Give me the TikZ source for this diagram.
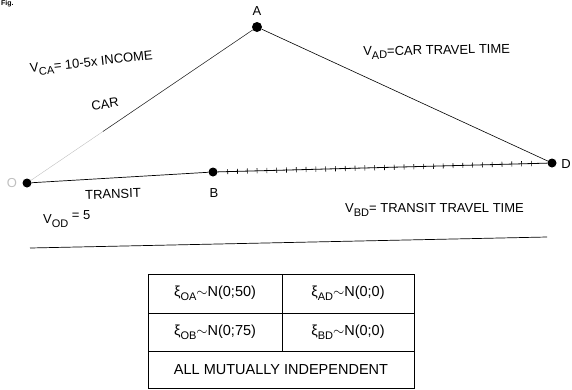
\documentclass[tikz,border=0pt]{standalone}
\usepackage{fontspec}
\setmainfont{Liberation Sans}
\usetikzlibrary{decorations.markings,calc}
\newcommand{\lowsub}[1]{\raisebox{-0.5ex}{\fontsize{11}{12}\selectfont #1}}
\begin{document}
\begin{tikzpicture}[x=1pt,y=-1pt,
  dot/.style={circle,fill=black,inner sep=0pt,minimum size=9pt},
  lbl/.style={font=\fontsize{13}{15}\selectfont,inner sep=0pt},
  hand/.style={font=\fontsize{13}{15}\selectfont,inner sep=0pt},
  cell/.style={font=\fontsize{14.5}{16}\selectfont,inner sep=0pt},
  ticked/.style={postaction={decorate,decoration={markings,
     mark=between positions 10pt and -8pt step 9.8pt with {\draw[line width=0.6pt] (0,-2.6pt)--(0,2.6pt);}}}},
  frame/.style={line width=0.7pt}]
\useasboundingbox (0,0) rectangle (572,389);
% title fragment
\node[font=\bfseries\fontsize{7}{8}\selectfont,anchor=north west,inner sep=0pt] (fig) at (1,0.5) {Fig.};
% nodes
\node[dot] (O) at (27,183) {};
\node[dot,minimum size=10pt] (A) at (257,27) {};
\node[dot] (B) at (213,172) {};
\node[dot] (D) at (552,163) {};
\node[lbl] (lA) at (257,11) {A};
\node[lbl] (lB) at (214,193) {B};
\node[lbl] (lD) at (566,164) {D};
\node[lbl,text=black!25] (lO) at (12,183) {O};
% connectors
\draw[black!25,line width=0.4pt] (O) -- (A);
\draw[black!85,line width=0.5pt] ($(O)!0.33!(A)$) -- (A);
\draw[line width=0.6pt] (A) -- (D);
\draw[line width=0.7pt] (O) -- (B);
\draw[line width=0.8pt,ticked] (B) -- (D);
% baseline
\coordinate (L1) at (30,248);
\coordinate (L2) at (547,237);
\draw[line width=0.7pt] (L1) -- (L2);
% labels
\node[hand,rotate=6,anchor=west] (vca) at (30,70) {V\lowsub{CA}= 10-5x INCOME};
\node[hand,rotate=8] (car) at (105,104) {CAR};
\node[hand,rotate=2] (tr) at (113,194) {TRANSIT};
\node[hand,anchor=west] (vod) at (43,219) {V\lowsub{OD}\raisebox{0.6ex}{ = 5}};
\node[hand,rotate=1,anchor=west] (vad) at (363,53) {V\lowsub{AD}=CAR\ TRAVEL TIME};
\node[hand,anchor=west] (vbd) at (345,210) {V\lowsub{BD}= TRANSIT\ TRAVEL TIME};
% table
\draw[frame] (148,274) rectangle (414,388);
\draw[frame] (148,313) -- (414,313);
\draw[frame] (148,351) -- (414,351);
\draw[frame] (282,274) -- (282,351);
\node[cell] (c1) at (215,293) {ξ\lowsub{OA}$\sim$N(0;50)};
\node[cell] (c2) at (348,293) {ξ\lowsub{AD}$\sim$N(0;0)};
\node[cell] (c3) at (215,332) {ξ\lowsub{OB}$\sim$N(0;75)};
\node[cell] (c4) at (348,332) {ξ\lowsub{BD}$\sim$N(0;0)};
\node[cell] (c5) at (281,370) {ALL MUTUALLY INDEPENDENT};
\end{tikzpicture}
\end{document}
